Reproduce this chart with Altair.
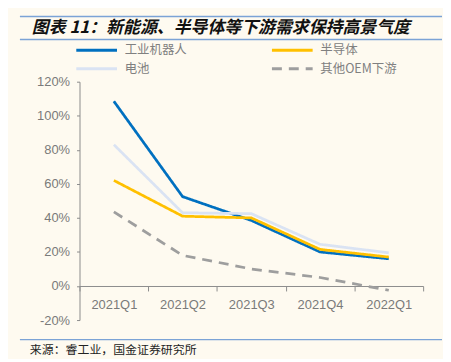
import altair as alt
import pandas as pd

categories = ["2021Q1", "2021Q2", "2021Q3", "2021Q4", "2022Q1"]
series_names = ["工业机器人", "半导体", "电池", "其他OEM下游"]
robot = [108.5, 52.5, 38.5, 20, 16]
semi = [62, 41, 40, 21.5, 17]
battery = [83, 43, 42.5, 24.5, 19.5]
oem = [43.5, 18, 10, 5, -2.5]
y_ticks = [-20, 0, 20, 40, 60, 80, 100, 120]

title_text = "图表 11：新能源、半导体等下游需求保持高景气度"
source_text = "来源：睿工业，国金证券研究所"

colors = ["#0070C0", "#FFC000", "#DAE3F3", "#9E9E9E"]
dashes = [[1, 0], [1, 0], [1, 0], [10, 7]]

rows = []
for name, vals in zip(series_names, [robot, semi, battery, oem]):
    for c, v in zip(categories, vals):
        rows.append({"cat": c, "series": name, "value": v})
df = pd.DataFrame(rows)

legend = alt.Legend(
    title=None, orient="none", legendX=15.5, legendY=-44, columns=2, direction="horizontal",
    symbolType="M-3,0H1", symbolSize=420, symbolStrokeWidth=3,
    labelFont="Noto Sans CJK SC", labelFontSize=12.5, labelColor="#808080",
    labelOffset=6, columnPadding=79, rowPadding=0, padding=0,
)

lines = alt.Chart(df).mark_line(strokeWidth=2.75).encode(
    x=alt.X("cat:N", bandPosition=0.5, sort=categories,
            scale=alt.Scale(type="band", paddingInner=0, paddingOuter=0),
            axis=alt.Axis(title=None, tickBand="extent", offset=-34.3, labelAngle=0,
                          domainColor="#8C8C8C", tickColor="#8C8C8C", tickSize=5,
                          labelColor="#7A7A7A", labelFont="Liberation Sans",
                          labelFontSize=13, labelPadding=8, grid=False)),
    y=alt.Y("value:Q", scale=alt.Scale(domain=[-20, 120], nice=False),
            axis=alt.Axis(title=None, values=y_ticks, labelExpr="datum.value + '%'",
                          domainColor="#8C8C8C", tickColor="#8C8C8C", tickSize=3,
                          labelColor="#7A7A7A", labelFont="Liberation Sans",
                          labelFontSize=13, labelPadding=7, grid=False)),
    color=alt.Color("series:N", scale=alt.Scale(domain=series_names, range=colors), legend=legend),
    strokeDash=alt.StrokeDash("series:N", scale=alt.Scale(domain=series_names, range=dashes), legend=legend),
)

one = pd.DataFrame({"a": [0]})
rule_color = "#7BA3D6"
top_rule = alt.Chart(one).mark_rule(color=rule_color, strokeWidth=1.5).encode(
    x=alt.value(-60), x2=alt.value(365), y=alt.value(-65.7))
mid_rule = alt.Chart(one).mark_rule(color=rule_color, strokeWidth=1.5).encode(
    x=alt.value(-60), x2=alt.value(365), y=alt.value(-42.5))
bot_rule = alt.Chart(one).mark_rule(color=rule_color, strokeWidth=1.5).encode(
    x=alt.value(-60), x2=alt.value(365), y=alt.value(259.7))

title = alt.Chart(one).mark_text(
    align="left", baseline="middle", font="Noto Sans CJK SC", fontSize=17,
    fontWeight="bold", fontStyle="italic", color="#111111").encode(
    x=alt.value(-48), y=alt.value(-54.5), text=alt.value(title_text))
source = alt.Chart(one).mark_text(
    align="left", baseline="middle", font="Noto Sans CJK SC", fontSize=12,
    color="#222222").encode(
    x=alt.value(-50), y=alt.value(270), text=alt.value(source_text))

chart = alt.layer(top_rule, mid_rule, bot_rule, title, source, lines).properties(
    width=346, height=240,
    autosize=alt.AutoSizeParams(type="none"),
    padding={"left": 72, "top": 73, "right": 20, "bottom": 38},
    background="#FEFAF0",
).configure_view(stroke=None)

chart.save("out.html", embed_options={"renderer": "svg", "actions": False})
